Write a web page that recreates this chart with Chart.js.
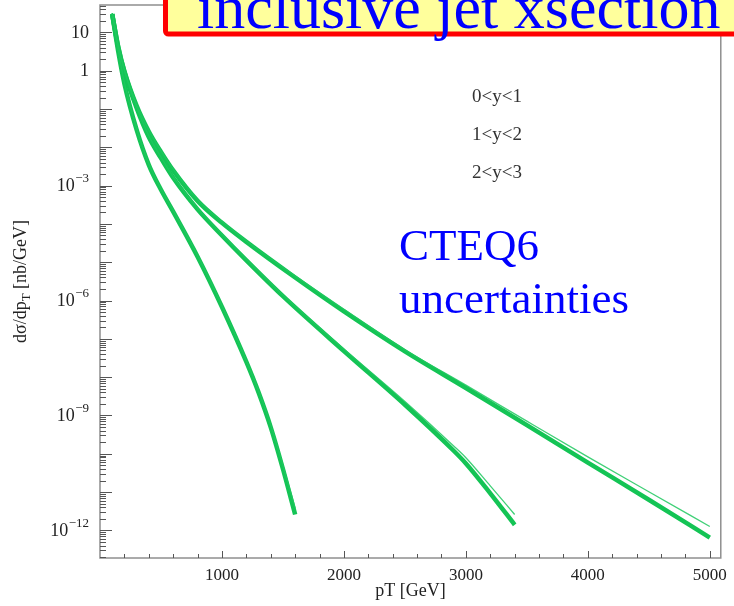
<!DOCTYPE html>
<html>
<head>
<meta charset="utf-8">
<script src="https://cdn.jsdelivr.net/npm/chart.js@4.4.1/dist/chart.umd.min.js"></script>
<style>
  html, body { margin: 0; padding: 0; background: #fff; }
  #wrap { width: 734px; height: 606px; }
</style>
</head>
<body>
<div id="wrap"><canvas id="xsec" width="734" height="606"></canvas></div>
<script>
// rapidity bins, as labelled in the plot
const binLabels = ['0<y<1', '1<y<2', '2<y<3'];

// 0<y<1 : central (dense core of the band) and upper edge, nb/GeV
const ptA   = [100, 150, 200, 300, 400, 500, 600, 800, 1000, 1200, 1600, 2000, 2500, 3000, 3500, 4000, 4500, 5000];
const coreA = [30, 4.2, 0.98, 0.123, 0.026, 7.6e-3, 2.5e-3, 4.0e-4, 1.07e-4, 3.4e-5, 4.0e-6, 5.2e-7, 4.7e-8, 5.2e-9, 5.6e-10, 5.9e-11, 6.3e-12, 6.5e-13];
const upA   = [32, 4.5, 1.05, 0.132, 0.028, 8.1e-3, 2.7e-3, 4.3e-4, 1.15e-4, 3.6e-5, 4.4e-6, 5.9e-7, 5.2e-8, 6.2e-9, 7.1e-10, 8.3e-11, 1.02e-11, 1.26e-12];

// 1<y<2
const ptB   = [100, 150, 200, 300, 400, 500, 600, 800, 1000, 1200, 1500, 2000, 2500, 2900, 3000, 3200, 3400];
const coreB = [30, 4.0, 0.93, 0.107, 0.0186, 5.2e-3, 1.6e-3, 2.4e-4, 5.0e-5, 1.12e-5, 1.3e-6, 4.8e-8, 1.9e-9, 1.2e-10, 5.6e-11, 9.3e-12, 1.4e-12];
const upB   = [32, 4.3, 1.0, 0.115, 0.020, 5.6e-3, 1.7e-3, 2.6e-4, 5.4e-5, 1.2e-5, 1.4e-6, 5.4e-8, 2.3e-9, 1.6e-10, 7.9e-11, 1.45e-11, 2.6e-12];

// 2<y<3
const ptC   = [100, 150, 200, 300, 400, 500, 600, 800, 1000, 1200, 1300, 1400, 1500, 1600];
const coreC = [30, 3.1, 0.46, 0.029, 3.5e-3, 7.8e-4, 2.1e-4, 1.4e-5, 6.8e-7, 2.5e-8, 4.0e-9, 4.9e-10, 4.0e-11, 2.6e-12];
const upC   = [32, 3.3, 0.49, 0.031, 3.7e-3, 8.3e-4, 2.25e-4, 1.5e-5, 7.3e-7, 2.7e-8, 4.4e-9, 5.6e-10, 5.0e-11, 3.8e-12];

// axis ticks
const xTickLabels = [1000, 2000, 3000, 4000, 5000];
const xMinorStep = 200;
const yTickExponents = [1, 0, -3, -6, -9, -12];

const SERIF = '"Liberation Serif", "Times New Roman", serif';
const GREEN = '#14c455';
const GREEN_THIN = 'rgba(30, 200, 95, 0.85)';

function line(pt, vals, width, color) {
    return {
        data: pt.map((p, i) => ({ x: p, y: vals[i] })),
        borderColor: color,
        borderWidth: width,
        pointRadius: 0,
        fill: false,
        cubicInterpolationMode: 'monotone'
    };
}

// frame, inward ticks, y labels with exponents, axis title and the slide annotations
const decor = {
    id: 'decor',
    afterDraw(chart) {
        const { ctx, chartArea: a, scales: { x, y } } = chart;
        ctx.save();

        ctx.strokeStyle = '#8f8f8f';
        ctx.lineWidth = 1.5;
        ctx.strokeRect(a.left, a.top, a.right - a.left, a.bottom - a.top);

        ctx.strokeStyle = '#555';
        ctx.lineWidth = 1;
        y.ticks.forEach(t => {
            const py = Math.round(y.getPixelForValue(t.value)) + 0.5;
            ctx.beginPath();
            ctx.moveTo(a.left, py);
            ctx.lineTo(a.left + (t.major ? 12 : 6), py);
            ctx.stroke();
        });
        x.ticks.forEach(t => {
            if (t.value <= 0) return;
            const px = Math.round(x.getPixelForValue(t.value)) + 0.5;
            ctx.beginPath();
            ctx.moveTo(px, a.bottom);
            ctx.lineTo(px, a.bottom - (t.value % 1000 === 0 ? 7 : 4));
            ctx.stroke();
        });

        // y tick labels: 10, 1, 10^-3 ...
        ctx.fillStyle = '#222';
        ctx.textBaseline = 'middle';
        yTickExponents.forEach(e => {
            const py = y.getPixelForValue(Math.pow(10, e));
            const right = 89;
            if (e === 0 || e === 1) {
                ctx.font = '18px ' + SERIF;
                ctx.textAlign = 'right';
                ctx.fillText(e === 0 ? '1' : '10', right, py + 1);
                return;
            }
            const sup = '\u2212' + String(-e);
            ctx.font = '13px ' + SERIF;
            const wSup = ctx.measureText(sup).width;
            ctx.textAlign = 'left';
            ctx.fillText(sup, right - wSup, py - 7);
            ctx.font = '18px ' + SERIF;
            ctx.textAlign = 'right';
            ctx.fillText('10', right - wSup - 0.5, py + 1);
        });

        // y axis title  d\u03c3/dp_T [nb/GeV]
        ctx.save();
        ctx.translate(21, (a.top + a.bottom) / 2);
        ctx.rotate(-Math.PI / 2);
        const p1 = 'd\u03c3/dp', p2 = 'T', p3 = ' [nb/GeV]';
        ctx.font = '18px ' + SERIF;
        const w1 = ctx.measureText(p1).width, w3 = ctx.measureText(p3).width;
        ctx.font = '13px ' + SERIF;
        const w2 = ctx.measureText(p2).width;
        let cx = -(w1 + w2 + w3) / 2;
        ctx.textAlign = 'left';
        ctx.textBaseline = 'alphabetic';
        ctx.font = '18px ' + SERIF;
        ctx.fillText(p1, cx, 5);
        cx += w1;
        ctx.font = '13px ' + SERIF;
        ctx.fillText(p2, cx, 9);
        cx += w2;
        ctx.font = '18px ' + SERIF;
        ctx.fillText(p3, cx, 5);
        ctx.restore();

        // rapidity bin labels
        ctx.font = '19px ' + SERIF;
        ctx.fillStyle = '#333';
        ctx.textAlign = 'center';
        ctx.textBaseline = 'middle';
        binLabels.forEach((s, i) => ctx.fillText(s, 497, 97 + i * 38));

        // CTEQ6 note
        ctx.fillStyle = '#0000ff';
        ctx.textAlign = 'left';
        ctx.textBaseline = 'alphabetic';
        ctx.font = '45px ' + SERIF;
        ctx.fillText('CTEQ6', 399, 260);
        ctx.fillText('uncertainties', 399, 313);

        // slide title box, partly off the top edge
        ctx.fillStyle = '#ffff9c';
        ctx.strokeStyle = '#ff0000';
        ctx.lineWidth = 5;
        ctx.beginPath();
        ctx.roundRect(165.5, -30, 620, 64, 3);
        ctx.fill();
        ctx.stroke();
        ctx.fillStyle = '#0000ff';
        ctx.font = '62px ' + SERIF;
        ctx.fillText('inclusive jet xsection', 197, 28);

        ctx.restore();
    }
};

new Chart(document.getElementById('xsec').getContext('2d'), {
    type: 'line',
    data: {
        datasets: [
            line(ptA, upA, 1.3, GREEN_THIN),
            line(ptB, upB, 1.3, GREEN_THIN),
            line(ptC, upC, 1.3, GREEN_THIN),
            line(ptA, coreA, 4.5, GREEN),
            line(ptB, coreB, 4.5, GREEN),
            line(ptC, coreC, 4.5, GREEN)
        ]
    },
    options: {
        responsive: false,
        animation: false,
        layout: { padding: { top: 5, right: 11, left: 0, bottom: 0 } },
        plugins: {
            legend: { display: false },
            tooltip: { enabled: false }
        },
        scales: {
            x: {
                type: 'linear',
                min: 0,
                max: 5090,
                grid: { display: false, drawTicks: false },
                border: { display: false },
                afterBuildTicks: scale => {
                    const ticks = [];
                    for (let v = 0; v <= 5000; v += xMinorStep) ticks.push({ value: v });
                    scale.ticks = ticks;
                },
                ticks: {
                    autoSkip: false,
                    maxRotation: 0,
                    padding: 7,
                    color: '#222',
                    font: { family: SERIF, size: 17 },
                    callback: v => xTickLabels.includes(v) ? String(v) : ''
                },
                title: {
                    display: true,
                    text: 'pT [GeV]',
                    color: '#222',
                    font: { family: SERIF, size: 18 },
                    padding: { top: 0, bottom: 4 }
                },
                afterFit: scale => { scale.height = 48; }
            },
            y: {
                type: 'logarithmic',
                min: 1.9e-13,
                max: 52,
                grid: { display: false, drawTicks: false },
                border: { display: false },
                ticks: { display: false },
                afterBuildTicks: scale => {
                    const ticks = [];
                    for (let e = -13; e <= 1; e++) {
                        for (let k = 1; k <= 9; k++) {
                            const v = k * Math.pow(10, e);
                            if (v >= scale.min && v <= scale.max) ticks.push({ value: v, major: k === 1 });
                        }
                    }
                    scale.ticks = ticks;
                },
                afterFit: scale => { scale.width = 100; }
            }
        }
    },
    plugins: [decor]
});
</script>
</body>
</html>
